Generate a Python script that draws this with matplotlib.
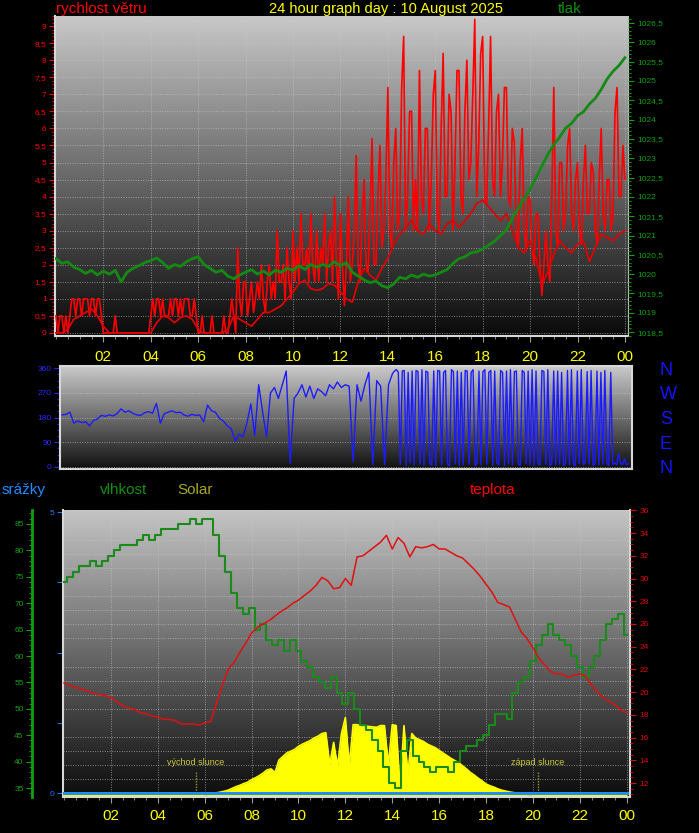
import numpy as np
import matplotlib.pyplot as plt
from matplotlib.colors import LinearSegmentedColormap
from matplotlib.ticker import MultipleLocator, FixedLocator, FuncFormatter
from matplotlib.transforms import blended_transform_factory

plt.rcParams['font.family'] = ['Liberation Sans', 'DejaVu Sans']

W, H = 699, 833

# wind gusts, m/s, every 5 min from 00:00 to 24:00
gust = [0.5, 0, 0.5, 0.5, 0, 0.5, 0, 0.5, 1, 1, 0.5, 1,
        1, 0.5, 1, 1, 1, 0.5, 1, 1, 0.5, 1, 1, 0.5,
        0, 0, 0, 0, 0, 0, 0.5, 0, 0, 0, 0, 0,
        0, 0, 0, 0, 0, 0, 0, 0, 0, 0, 0, 0,
        0.5, 1, 0.5, 1, 1, 0.5, 1, 0.5, 0.5, 0.5, 1, 0.5,
        1, 1, 0.5, 1, 0.5, 1, 1, 1, 0.5, 0.5, 1, 0.5,
        0, 0, 0.5, 0, 0, 0, 0, 0.5, 0, 0, 0, 0,
        0, 0.5, 0, 0, 0.5, 1, 0.5, 0, 2.5, 1, 0.5, 1.5,
        1.5, 0.5, 1, 1.5, 0.6, 1, 1.5, 1, 2, 1, 0.6, 1.5,
        2, 1, 1.5, 1, 3, 1.5, 1.5, 2, 1, 2.5, 1.5, 1,
        3, 1.5, 2.5, 1.5, 3.5, 2, 2, 2.5, 1.5, 3.5, 2, 1.5,
        3, 1.5, 2.5, 2, 3.5, 1.5, 2.5, 3, 1.5, 4, 2, 1,
        3.5, 2, 0.8, 2, 4, 1.5, 2, 3, 5.2, 2, 1.5, 3.5,
        4.5, 2, 1.8, 3.5, 5.7, 2, 2, 4, 5.5, 2.5, 3, 4.5,
        7.2, 3, 2.5, 5, 6, 3, 3.5, 7.2, 8.7, 3, 4, 6.5,
        6.5, 3, 4.5, 3, 7.7, 4, 3.5, 6, 6, 3, 4.5, 7,
        7.7, 3.5, 3, 6, 8.2, 4, 4, 7, 6.5, 3, 5, 7.7,
        7.7, 4, 3.5, 6.5, 8, 4.5, 5, 7, 9.2, 4, 5.5, 8.2,
        8.7, 4, 3.8, 6, 8.7, 4.5, 4, 6.5, 7, 4, 5, 7.2,
        7.2, 4, 3.7, 6, 5.6, 3, 2.5, 5, 6, 3, 2.4, 4,
        3.9, 2.5, 2, 3.5, 3.5, 2, 1.1, 2, 3, 2, 1.5, 4,
        7.2, 3, 2.5, 5, 5, 3, 3.5, 5.5, 6, 3.5, 3, 4.5,
        5, 3, 2.6, 4.5, 5.5, 3.5, 3.5, 5, 4.7, 3, 2.6, 4.5,
        6, 3.5, 3, 4.5, 4.5, 3, 3.5, 6.5, 7.2, 4, 4, 5.5,
        4.5]

# average wind, m/s, every 15 min
wind_avg = [0, 0, 0.1, 0.4, 0.5, 0.6, 0.7, 0.5,
            0.2, 0, 0, 0, 0, 0, 0, 0,
            0, 0.3, 0.5, 0.45, 0.3, 0.45, 0.5, 0.4,
            0.1, 0, 0, 0, 0, 0.1, 0.5, 0.4,
            0.3, 0.2, 0.4, 0.6, 0.6, 0.7, 0.8, 1.0,
            1.2, 1.45, 1.55, 1.3, 1.25, 1.3, 1.45, 1.4,
            1.2, 1.0, 0.9, 1.5, 1.9, 1.7, 1.55, 1.9,
            2.2, 2.6, 2.9, 3.1, 3.3, 3.0, 2.9, 3.2,
            3.0, 2.9, 3.2, 3.3, 3.1, 3.3, 3.5, 3.8,
            3.9, 3.7, 3.5, 3.3, 3.5, 3.0, 2.5, 2.35,
            2.7, 2.2, 1.4, 1.8, 2.3, 2.7, 2.5, 2.35,
            2.6, 2.7, 2.1, 2.5, 2.9, 2.8, 2.7, 2.9,
            3.0]

# pressure, hPa, every 15 min
pressure = [1020.40, 1020.28, 1020.32, 1020.18, 1020.12, 1020.02, 1020.10, 1019.98,
            1020.08, 1020.00, 1020.10, 1019.80, 1020.05, 1020.15, 1020.22, 1020.30,
            1020.35, 1020.42, 1020.30, 1020.15, 1020.25, 1020.20, 1020.32, 1020.40,
            1020.45, 1020.25, 1020.15, 1020.05, 1020.10, 1019.95, 1019.88, 1019.98,
            1020.05, 1020.12, 1020.00, 1020.08, 1019.98, 1020.10, 1020.05, 1020.15,
            1020.10, 1020.22, 1020.12, 1020.25, 1020.18, 1020.25, 1020.20, 1020.32,
            1020.22, 1020.30, 1020.05, 1019.95, 1019.85, 1019.78, 1019.82, 1019.70,
            1019.65, 1019.75, 1019.92, 1019.88, 1019.98, 1019.92, 1020.00, 1019.95,
            1019.98, 1020.05, 1020.12, 1020.28, 1020.40, 1020.45, 1020.55, 1020.58,
            1020.65, 1020.75, 1020.85, 1021.00, 1021.15, 1021.45, 1021.70, 1021.95,
            1022.20, 1022.50, 1022.80, 1023.10, 1023.35, 1023.55, 1023.78, 1023.90,
            1024.10, 1024.20, 1024.40, 1024.55, 1024.78, 1025.05, 1025.25, 1025.40,
            1025.60]

# wind direction, degrees: every 10 min until 13:50, then every 5 min from 14:00
dir_morning = [190, 192, 200, 160, 168, 162,
               165, 150, 170, 175, 188, 185,
               190, 186, 195, 212, 200, 205,
               196, 190, 188, 198, 202, 196,
               232, 160, 195, 200, 205, 198,
               200, 190, 185, 192, 188, 190,
               165, 226, 205, 200, 178, 168,
               150, 140, 95, 120, 110, 160,
               230, 115, 300, 200, 110, 270,
               290, 250, 300, 350, 13, 250,
               270, 300, 255, 295, 250, 285,
               275, 260, 300, 285, 310, 290,
               300, 295, 20, 300, 240, 300,
               345, 8, 315, 295, 8, 300]
dir_afternoon = [340, 350, 355, 345, 10, 350, 352, 5, 345, 15, 350, 8,
                 352, 348, 10, 355, 6, 350, 345, 12, 8, 350, 5, 352,
                 350, 8, 345, 352, 10, 5, 355, 348, 12, 350, 6, 345,
                 8, 352, 350, 10, 345, 355, 6, 12, 350, 8, 348, 355,
                 10, 345, 352, 6, 350, 15, 8, 352, 345, 5, 350, 12,
                 355, 8, 348, 350, 10, 6, 352, 345, 12, 350, 8, 355,
                 6, 350, 12, 8, 352, 348, 10, 355, 5, 12, 350, 8,
                 350, 10, 345, 6, 12, 352, 8, 355, 10, 5, 350, 12,
                 355, 8, 15, 348, 10, 352, 6, 12, 350, 8, 345, 10,
                 352, 12, 6, 345, 10, 15, 8, 50, 12, 10, 30, 8,
                 12]

# humidity %, every 15 min
humidity = [74, 75, 76, 77, 77, 78, 77, 78,
            79, 80, 81, 81, 81, 82, 83, 82,
            83, 84, 84, 84, 85, 85, 86, 85,
            86, 86, 83, 79, 76, 72, 69, 68,
            69, 65, 66, 63, 62, 63, 61, 63,
            61, 59, 58, 56, 55, 54, 56, 53,
            51, 53, 50, 47, 46, 44, 42, 39,
            36, 35, 42, 44, 41, 40, 39, 38,
            39, 39, 38, 40, 42, 43, 43, 44,
            45, 47, 49, 49, 48, 53, 55, 56,
            59, 62, 64, 66, 64, 63, 62, 60,
            58, 56, 58, 60, 63, 66, 67, 68,
            64]

# temperature degC, every 15 min
temperature = [20.8, 20.6, 20.4, 20.3, 20.1, 19.9, 19.8, 19.7,
               19.5, 19.2, 18.8, 18.6, 18.5, 18.2, 18.1, 17.9,
               17.8, 17.6, 17.6, 17.5, 17.2, 17.2, 17.2, 17.1,
               17.3, 17.4, 19.0, 20.6, 22.0, 22.6, 23.5, 24.3,
               25.2, 25.7, 26.0, 26.3, 26.7, 27.1, 27.4, 27.8,
               28.1, 28.5, 28.9, 29.4, 30.1, 29.8, 29.1, 29.2,
               30.0, 29.4, 31.9, 32.0, 32.4, 32.8, 33.2, 33.8,
               32.6, 33.6, 33.1, 31.9, 32.8, 32.7, 32.8, 33.0,
               32.6, 32.6, 32.3, 32.0, 31.8, 31.3, 30.8, 30.2,
               29.5, 28.8, 27.9, 27.7, 27.5, 26.4, 25.3, 24.7,
               23.9, 23.0, 22.4, 21.8, 21.6, 21.6, 21.3, 21.5,
               21.6, 21.4, 20.6, 20.0, 19.5, 19.2, 18.9, 18.4,
               18.2]

# solar radiation W/m2, every 10 min
solar = [0, 0, 0, 0, 0, 0, 0, 0, 0, 0, 0, 0,
         0, 0, 0, 0, 0, 0, 0, 0, 0, 0, 0, 0,
         0, 0, 0, 0, 0, 0, 0, 0, 0, 0, 0, 0,
         5, 15, 25, 30, 38, 48,
         60, 80, 100, 115, 135, 150,
         180, 200, 225, 255, 290, 300,
         260, 400, 440, 480, 500, 520,
         555, 580, 600, 620, 650, 670,
         700, 710, 350, 600, 330, 700,
         880, 340, 800, 800, 790, 785,
         780, 775, 770, 790, 790, 350,
         800, 790, 90, 790, 240, 700,
         650, 630, 610, 580, 560, 540,
         510, 480, 450, 420, 395, 370,
         335, 300, 260, 230, 195, 165,
         130, 110, 95, 75, 60, 50,
         40, 33, 26, 18, 12, 8,
         3, 0, 0, 0, 0, 0,
         0, 0, 0, 0, 0, 0, 0, 0, 0, 0, 0, 0,
         0, 0, 0, 0, 0, 0, 0]

# rain mm, no rain that day
rain = [0, 0, 0, 0, 0]

sunrise = 5.63
sunset = 20.2
hour_ticks = list(range(2, 25, 2))
hour_labels = ['%02d' % (h % 24) for h in hour_ticks]


def box(x0, y0, x1, y1):
    return [x0 / W, 1 - y1 / H, (x1 - x0) / W, (y1 - y0) / H]


def backdrop(ax, top, bottom):
    cmap = LinearSegmentedColormap.from_list('bg', [bottom, top])
    ax.imshow(np.linspace(1, 0, 256).reshape(-1, 1), cmap=cmap, aspect='auto',
              extent=(0, 1, 0, 1), transform=ax.transAxes, zorder=0)


def comma(v, pos=None):
    return ('%g' % v).replace('.', ',')


def hours(vals):
    return np.linspace(0, 24, len(vals))


def hour_axis(ax, lo, hi, pad):
    ax.set_xlim(lo, hi)
    ax.xaxis.set_major_locator(FixedLocator(hour_ticks))
    ax.xaxis.set_minor_locator(MultipleLocator(0.5))
    ax.set_xticklabels(hour_labels)
    ax.tick_params(axis='x', which='major', colors='#9a9a9a', length=4,
                   labelcolor='yellow', labelsize=11, pad=pad)
    ax.tick_params(axis='x', which='minor', colors='#9a9a9a', length=2)


def hide_spines(ax, keep=()):
    for name, sp in ax.spines.items():
        sp.set_visible(name in keep)


grid_kw = dict(color='#c8c8c8', linestyle=(0, (1, 1.5)), lw=0.7, alpha=0.6)
edge = '#d8d8d8'

fig = plt.figure(figsize=(W / 100, H / 100), dpi=100, facecolor='black')

# ---------------- top panel: wind speed + pressure
ax1 = fig.add_axes(box(55, 16, 628, 336))
backdrop(ax1, '#c8c8c8', '#0a0a0a')
ax1.plot(hours(gust), gust, color='#ff0000', lw=1.2, zorder=3)
ax1.plot(hours(wind_avg), wind_avg, color='#e00000', lw=1.3, zorder=3)
hour_axis(ax1, -0.04, 24.13, pad=6)
ax1.set_ylim(-0.09, 9.3)
ax1.yaxis.set_major_locator(MultipleLocator(0.5))
ax1.yaxis.set_minor_locator(MultipleLocator(0.1))
ax1.yaxis.set_major_formatter(FuncFormatter(comma))
ax1.tick_params(axis='y', which='major', colors='red', labelsize=6, length=4, pad=2)
ax1.tick_params(axis='y', which='minor', colors='red', length=2)
ax1.grid(axis='both', which='major', **grid_kw)
hide_spines(ax1, ('left', 'bottom', 'right'))
for s in ('left', 'bottom'):
    ax1.spines[s].set_color(edge)
    ax1.spines[s].set_linewidth(1.5)
ax1.spines['right'].set_color('#bcbcbc')

ax1r = ax1.twinx()
ax1r.plot(hours(pressure), pressure, color='#138a13', lw=2.0)
ax1r.set_ylim(1018.4, 1026.68)
ax1r.yaxis.set_major_locator(MultipleLocator(0.5))
ax1r.yaxis.set_minor_locator(MultipleLocator(0.1))
ax1r.yaxis.set_major_formatter(FuncFormatter(comma))
ax1r.tick_params(axis='y', which='major', colors='#10a010', labelsize=6, length=4, pad=3)
ax1r.tick_params(axis='y', which='minor', colors='#10a010', length=2)
hide_spines(ax1r)

# ---------------- middle panel: wind direction
t_dir = np.concatenate([np.arange(len(dir_morning)) / 6,
                        14 + np.arange(len(dir_afternoon)) / 12])
ax2 = fig.add_axes(box(60, 366, 632, 469))
backdrop(ax2, '#cacaca', '#101010')
ax2.plot(t_dir, dir_morning + dir_afternoon, color='#1c1cff', lw=1.0, zorder=3)
ax2.set_xlim(-0.085, 24.15)
ax2.set_ylim(-7.3, 368.4)
ax2.yaxis.set_major_locator(MultipleLocator(90))
ax2.yaxis.set_minor_locator(MultipleLocator(22.5))
ax2.tick_params(axis='y', which='major', colors='#2a2aff', labelsize=6, length=4, pad=2)
ax2.tick_params(axis='y', which='minor', colors='#2a2aff', length=2)
ax2.tick_params(axis='x', which='both', length=0, labelbottom=False)
ax2.grid(axis='y', which='major', **grid_kw)
for sp in ax2.spines.values():
    sp.set_color(edge)
    sp.set_linewidth(1.5)

ax2r = ax2.twinx()
ax2r.set_ylim(ax2.get_ylim())
ax2r.set_yticks([0, 90, 180, 270, 360], ['N', 'E', 'S', 'W', 'N'])
ax2r.tick_params(axis='y', length=0, pad=20, labelsize=13, labelcolor='#1414ff')
hide_spines(ax2r)

# ---------------- bottom panel: rain, humidity, solar, temperature
ax3 = fig.add_axes(box(63, 510, 630, 797))
backdrop(ax3, '#c4c4c4', '#0c0c0c')
hour_axis(ax3, -0.043, 24.14, pad=5)
ax3.set_ylim(-0.071, 5.036)
ax3.set_yticks([0, 1.25, 2.5, 3.75, 5], ['0', '', '', '', '5'])
ax3.yaxis.set_minor_locator(MultipleLocator(0.25))
ax3.tick_params(axis='y', which='major', colors='#1e78ff', labelsize=6, length=4, pad=2)
ax3.tick_params(axis='y', which='minor', length=0)
ax3.grid(axis='y', which='minor', **grid_kw)
ax3.grid(axis='x', which='major', **grid_kw)
hide_spines(ax3, ('left', 'bottom', 'right'))
for sp in ('left', 'bottom', 'right'):
    ax3.spines[sp].set_color(edge)
    ax3.spines[sp].set_linewidth(1.5)

mark = blended_transform_factory(ax3.transData, ax3.transAxes)
for t, name in ((sunrise, 'východ slunce'), (sunset, 'západ slunce')):
    ax3.plot([t, t], [0.014, 0.087], transform=mark, color='#9a9a30', lw=1,
             linestyle=(0, (1, 1)), zorder=3)
    ax3.text(t, 0.105, name, transform=mark, ha='center', va='bottom',
             fontsize=6.5, color='#c8c838', zorder=3)

ax_s = ax3.twinx()
ax_s.fill_between(hours(solar), 0, solar, color='#ffff00', lw=0)
ax_s.plot(hours(solar), solar, color='#ffff00', lw=1.2)
ax_s.set_ylim(-17, 3226)
ax_s.set_yticks([])
hide_spines(ax_s)

ax_h = ax3.twinx()
ax_h.plot(hours(humidity), humidity, color='#1a8a1a', lw=1.5, drawstyle='steps-mid')
ax_h.set_ylim(33.3, 87.65)
ax_h.yaxis.set_ticks_position('left')
ax_h.yaxis.set_major_locator(MultipleLocator(5))
ax_h.yaxis.set_minor_locator(MultipleLocator(1))
ax_h.tick_params(axis='y', which='major', colors='#10a010', labelsize=6, length=4, pad=2)
ax_h.tick_params(axis='y', which='minor', colors='#10a010', length=2)
hide_spines(ax_h, ('left',))
ax_h.spines['left'].set_position(('axes', -31 / 567))
ax_h.spines['left'].set_color('#10a010')
ax_h.spines['left'].set_linewidth(2)

ax_t = ax3.twinx()
ax_t.plot(hours(temperature), temperature, color='#e01010', lw=1.1)
ax_t.plot(hours(rain), rain, color='#1e8cff', lw=2.2, transform=ax3.transData)
ax_t.set_ylim(10.77, 36.03)
ax_t.yaxis.set_major_locator(MultipleLocator(2))
ax_t.yaxis.set_minor_locator(MultipleLocator(0.5))
ax_t.tick_params(axis='y', which='major', colors='#e00000', labelsize=6, length=4, pad=3)
ax_t.tick_params(axis='y', which='minor', colors='#e00000', length=2)
hide_spines(ax_t)


# ---------------- headings
def head(x, y, s, color, size=11):
    fig.text(x / W, 1 - y / H, s, ha='center', va='center', color=color, fontsize=size)


head(101, 9, 'rychlost větru', '#ff0000')
head(386, 9, '24 hour graph day : 10 August 2025', '#ffff00', 10.5)
head(570, 9, 'tlak', '#109010')
head(24, 490, 'srážky', '#1e8cff')
head(124, 490, 'vlhkost', '#109010')
head(195, 490, 'Solar', '#a8a820')
head(493, 490, 'teplota', '#ff0000')

fig.savefig('out.png', dpi=100, facecolor='black')
